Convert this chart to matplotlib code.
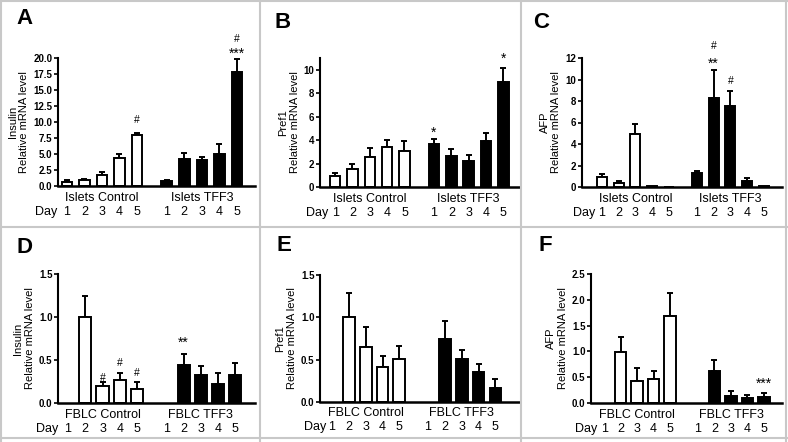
import numpy as np
import matplotlib
matplotlib.use("Agg")
import matplotlib.pyplot as plt
from matplotlib.lines import Line2D

plt.rcParams['font.family'] = ['Liberation Sans', 'DejaVu Sans']

days = ["1", "2", "3", "4", "5"]
nan = np.nan

# panel A - insulin, islets
a_ctrl = [0.7, 0.95, 1.65, 4.3, 7.9]
a_ctrl_err = [0.2, 0.2, 0.5, 0.7, 0.4]
a_tff3 = [0.8, 4.2, 4.0, 5.0, 17.8]
a_tff3_err = [0.15, 1.0, 0.6, 1.6, 2.0]

# panel B - pref1, islets
b_ctrl = [0.95, 1.5, 2.6, 3.4, 3.1]
b_ctrl_err = [0.25, 0.5, 0.75, 0.6, 0.8]
b_tff3 = [3.7, 2.65, 2.25, 3.95, 8.95]
b_tff3_err = [0.4, 0.55, 0.5, 0.65, 1.2]

# panel C - AFP, islets
c_ctrl = [0.95, 0.4, 4.95, 0.05, 0.03]
c_ctrl_err = [0.25, 0.12, 0.9, 0.0, 0.0]
c_tff3 = [1.3, 8.3, 7.55, 0.6, 0.05]
c_tff3_err = [0.2, 2.6, 1.4, 0.2, 0.0]

# panel D - insulin, FBLC
d_ctrl = [nan, 1.0, 0.195, 0.265, 0.16]
d_ctrl_err = [0, 0.25, 0.045, 0.08, 0.08]
d_tff3 = [nan, 0.44, 0.33, 0.22, 0.33]
d_tff3_err = [0, 0.13, 0.105, 0.13, 0.14]

# panel E - pref1, FBLC
e_ctrl = [nan, 1.0, 0.65, 0.41, 0.51]
e_ctrl_err = [0, 0.29, 0.23, 0.13, 0.15]
e_tff3 = [nan, 0.74, 0.51, 0.36, 0.17]
e_tff3_err = [0, 0.22, 0.1, 0.09, 0.1]

# panel F - AFP, FBLC
f_ctrl = [nan, 0.99, 0.42, 0.46, 1.69]
f_ctrl_err = [0, 0.28, 0.25, 0.16, 0.45]
f_tff3 = [nan, 0.62, 0.13, 0.1, 0.12]
f_tff3_err = [0, 0.21, 0.11, 0.05, 0.07]

W, H = 788, 442
fig = plt.figure(figsize=(W / 100, H / 100), dpi=100)

# light grey frame around panels
grey = "#c8c8c8"
def hline(y, x0, x1):
    fig.add_artist(Line2D([x0 / W, x1 / W], [1 - y / H, 1 - y / H], color=grey, lw=1.5))
def vline(x, y0, y1):
    fig.add_artist(Line2D([x / W, x / W], [1 - y0 / H, 1 - y1 / H], color=grey, lw=1.5))
hline(1, 0, W); hline(227, 0, W); hline(438, 0, W)
vline(1, 0, H); vline(260, 0, H); vline(521, 0, H); vline(786, 0, H)

GAP = 5.7
ctrl_x = np.arange(5)
tff3_x = np.arange(5) + GAP

def panel(px, letter, gene, group, ctrl, ctrl_err, tff3, tff3_err,
          ymax, yticks, fmt, xlim, barw, letter_xy, day_gap, notes):
    x0, x1, ytop, ybot = px
    ax = fig.add_axes([x0 / W, 1 - ybot / H, (x1 - x0) / W, (ybot - ytop) / H])
    ax.bar(ctrl_x, ctrl, width=barw, color="white", edgecolor="black", lw=1.4, zorder=2)
    ax.bar(tff3_x, tff3, width=barw, color="black", edgecolor="black", lw=1.4, zorder=2)
    for xs, v, e in ((ctrl_x, ctrl, ctrl_err), (tff3_x, tff3, tff3_err)):
        v = np.array(v, float); e = np.array(e, float)
        ok = ~np.isnan(v) & (e > 0)
        ax.errorbar(xs[ok], v[ok], yerr=[np.zeros(ok.sum()), e[ok]], fmt="none",
                    ecolor="black", elinewidth=1.4, capsize=2.5, capthick=1.4, zorder=1)
    ax.set_xlim(*xlim)
    ax.set_ylim(0, ymax)
    ax.set_yticks(yticks)
    ax.set_yticklabels([fmt % t for t in yticks], fontsize=7, fontweight="bold")
    ax.tick_params(axis="y", length=3, width=1.2, pad=1)
    ax.set_xticks([])
    for s in ("top", "right"):
        ax.spines[s].set_visible(False)
    ax.spines["left"].set_linewidth(1.5)
    ax.spines["bottom"].set_linewidth(1.8)
    ax.set_ylabel(gene + "\nRelative mRNA level", fontsize=8, labelpad=3, linespacing=1.2)

    trans = ax.get_xaxis_transform()
    ax.text(ctrl_x.mean(), -0.09, group + " Control", transform=trans, ha="center",
            va="center", fontsize=9)
    ax.text(tff3_x.mean(), -0.09, group + " TFF3", transform=trans, ha="center",
            va="center", fontsize=9)
    for i, d in enumerate(days):
        ax.text(ctrl_x[i], -0.2, d, transform=trans, ha="center", va="center", fontsize=9)
        ax.text(tff3_x[i], -0.2, d, transform=trans, ha="center", va="center", fontsize=9)
    ax.annotate("Day", xy=(ctrl_x[0], -0.2), xycoords=trans, xytext=(-day_gap, 0),
                textcoords="offset points", ha="right", va="center", fontsize=9)
    fig.text(letter_xy[0] / W, 1 - letter_xy[1] / H, letter, fontsize=16,
             fontweight="bold", ha="left", va="top")
    for x, y, s in notes:
        fs = 10 if "*" in s else 7.5
        ax.text(x, y, s, ha="center", va="center", fontsize=fs, clip_on=False)
    return ax

panel((58, 255, 58, 186), "A", "Insulin", "Islets", a_ctrl, a_ctrl_err, a_tff3, a_tff3_err,
      20, np.arange(0, 20.1, 2.5), "%.1f", (-0.51, 10.74), 0.6, (16, 8), 7,
      [(4, 10.3, "#"), (GAP + 4, 23.0, "#"), (GAP + 4, 20.6, "***")])
panel((320, 519, 58, 187), "B", "Pref1", "Islets", b_ctrl, b_ctrl_err, b_tff3, b_tff3_err,
      11, np.arange(0, 10.1, 2), "%d", (-0.87, 10.6), 0.6, (274, 12), 5,
      [(GAP, 4.6, "*"), (GAP + 4, 10.9, "*")])
panel((582, 782, 58, 187), "C", "AFP", "Islets", c_ctrl, c_ctrl_err, c_tff3, c_tff3_err,
      12, np.arange(0, 12.1, 2), "%d", (-1.2, 10.8), 0.6, (533, 12), 5,
      [(GAP + 1, 13.1, "#"), (GAP + 1, 11.5, "**"), (GAP + 2, 9.9, "#")])
panel((58, 255, 274, 403), "D", "Insulin", "FBLC", d_ctrl, d_ctrl_err, d_tff3, d_tff3_err,
      1.5, np.arange(0, 1.51, 0.5), "%.1f", (-0.58, 10.84), 0.7, (16, 237), 7,
      [(2, 0.29, "#"), (3, 0.47, "#"), (4, 0.35, "#"), (GAP + 1, 0.7, "**")])
panel((320, 519, 275, 402), "E", "Pref1", "FBLC", e_ctrl, e_ctrl_err, e_tff3, e_tff3_err,
      1.5, np.arange(0, 1.51, 0.5), "%.1f", (-0.71, 11.1), 0.7, (276, 235), 4,
      [])
panel((591, 782, 274, 403), "F", "AFP", "FBLC", f_ctrl, f_ctrl_err, f_tff3, f_tff3_err,
      2.5, np.arange(0, 2.51, 0.5), "%.1f", (-0.8, 10.8), 0.7, (538, 235), 5,
      [(GAP + 4, 0.37, "***")])

fig.savefig("out.png", dpi=100)
